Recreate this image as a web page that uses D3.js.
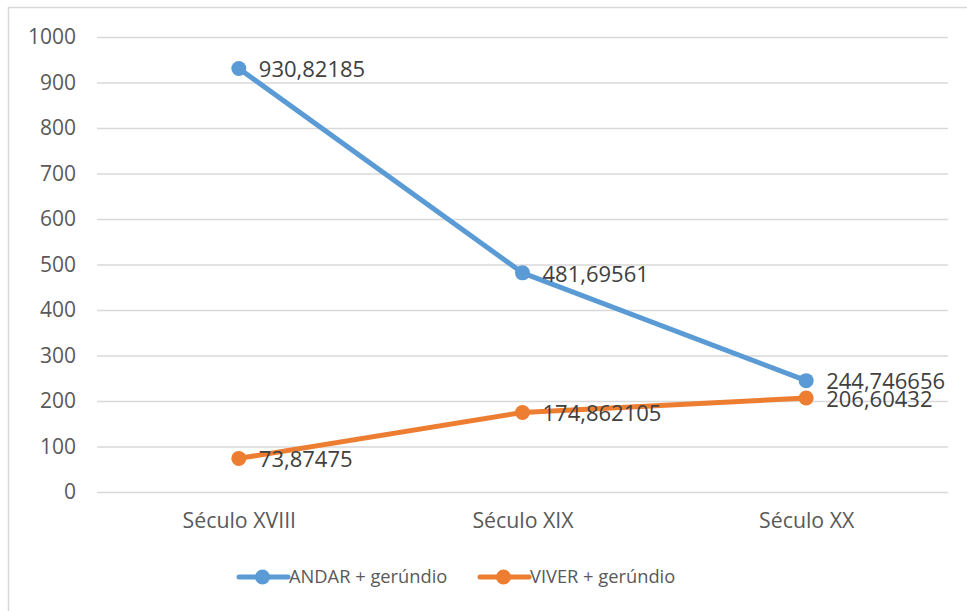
<!DOCTYPE html>
<html><head><meta charset="utf-8">
<script src="https://cdn.jsdelivr.net/npm/d3@7"></script>
<style>body{margin:0;background:#fff}svg{display:block}</style>
</head><body>
<svg id="c" width="967" height="611"></svg>
<script>
const categories = ["Século XVIII", "Século XIX", "Século XX"];
const andar = [930.82185, 481.69561, 244.746656];
const viver = [73.87475, 174.862105, 206.60432];
const andarLabels = ["930,82185", "481,69561", "244,746656"];
const viverLabels = ["73,87475", "174,862105", "206,60432"];
const yTicks = [0, 100, 200, 300, 400, 500, 600, 700, 800, 900, 1000];
const seriesNames = ["ANDAR + gerúndio", "VIVER + gerúndio"];
const colors = ["#5B9BD5", "#ED7D31"];

const svg = d3.select("#c");
const font = "'Open Sans', sans-serif";

// chart border
svg.append("rect").attr("x", 8.5).attr("y", 7.5).attr("width", 975).attr("height", 620)
  .attr("fill", "#fff").attr("stroke", "#d9d9d9").attr("stroke-width", 1.5);

const x0 = 97, x1 = 948;
const x = d3.scalePoint().domain(categories).range([x0, x1]).padding(0.5);
const y = d3.scaleLinear().domain([0, 1000]).range([492, 37]);

const gy = svg.append("g").attr("transform", `translate(${x0},0)`)
  .call(d3.axisLeft(y).tickValues(yTicks).tickFormat(d3.format("d")).tickSize(-(x1 - x0)).tickPadding(21));
gy.select(".domain").remove();
gy.selectAll(".tick line").attr("stroke", "#d9d9d9").attr("stroke-width", 1.5);
gy.selectAll(".tick text").attr("fill", "#595959").style("font-family", font).style("font-size", "21px");

const gx = svg.append("g").attr("transform", `translate(0,492)`)
  .call(d3.axisBottom(x).tickSize(0).tickPadding(21));
gx.select(".domain").remove();
gx.selectAll(".tick text").attr("fill", "#595959").style("font-family", font).style("font-size", "21.3px");

const series = [
  {name: seriesNames[0], values: andar, labels: andarLabels, color: colors[0]},
  {name: seriesNames[1], values: viver, labels: viverLabels, color: colors[1]}
];
const line = d3.line().x((d, i) => x(categories[i])).y(d => y(d));

series.forEach(s => {
  svg.append("path").datum(s.values).attr("d", line).attr("fill", "none")
    .attr("stroke", s.color).attr("stroke-width", 5).attr("stroke-linecap", "round").attr("stroke-linejoin", "round");
  svg.selectAll(null).data(s.values).enter().append("circle")
    .attr("cx", (d, i) => x(categories[i])).attr("cy", d => y(d)).attr("r", 7.5).attr("fill", s.color);
});
series.forEach(s => {
  svg.selectAll(null).data(s.values).enter().append("text")
    .attr("x", (d, i) => x(categories[i]) + 20).attr("y", d => y(d) + 1).attr("dy", "0.35em")
    .attr("fill", "#404040").style("font-family", font).style("font-size", "22px")
    .text((d, i) => s.labels[i]);
});

// legend
const legendItems = [{x: 239}, {x: 480}];
series.forEach((s, i) => {
  const lx = legendItems[i].x, ly = 577;
  svg.append("line").attr("x1", lx).attr("x2", lx + 49).attr("y1", ly).attr("y2", ly)
    .attr("stroke", s.color).attr("stroke-width", 5).attr("stroke-linecap", "round");
  svg.append("circle").attr("cx", lx + 23.5).attr("cy", ly).attr("r", 7.5).attr("fill", s.color);
  svg.append("text").attr("x", lx + 50).attr("y", ly).attr("dy", "0.35em")
    .attr("fill", "#595959").style("font-family", font).style("font-size", "18.3px").text(s.name);
});
</script>
</body></html>
